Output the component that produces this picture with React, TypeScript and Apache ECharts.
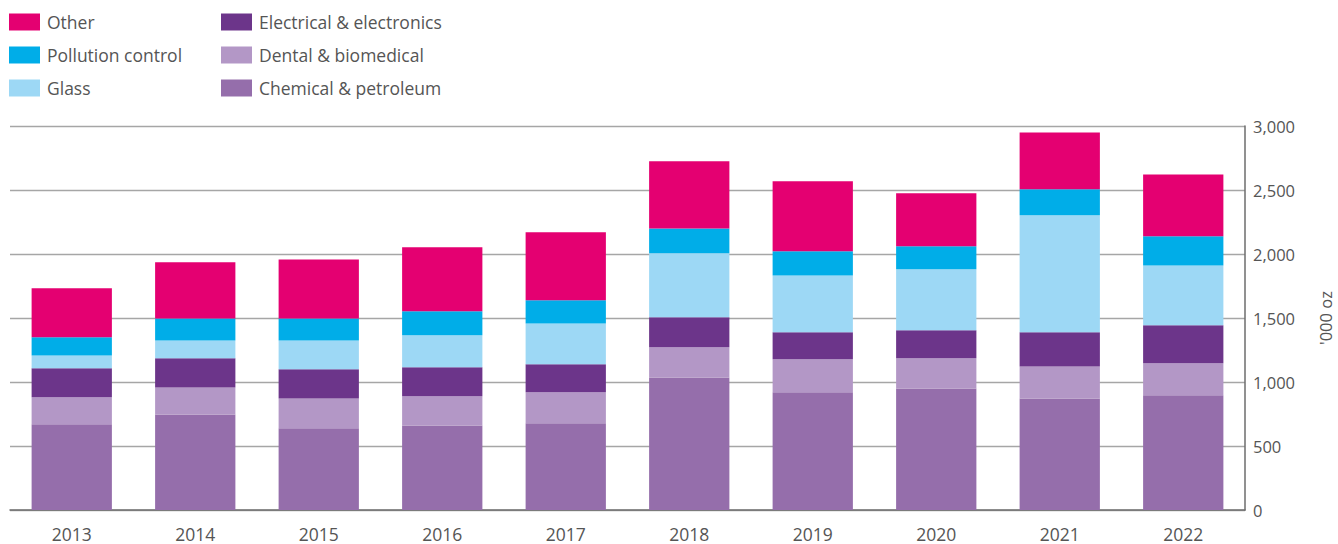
import React, { useEffect, useRef } from "react";
import * as echarts from "echarts";

const years = ["2013", "2014", "2015", "2016", "2017", "2018", "2019", "2020", "2021", "2022"];
const chemical = [669, 747, 638, 661, 677, 1036, 919, 950, 872, 896];
const dental = [211, 211, 234, 227, 242, 235, 258, 235, 250, 250];
const electrical = [227, 227, 227, 227, 219, 234, 211, 219, 266, 297];
const glass = [101, 140, 226, 250, 320, 500, 445, 476, 914, 468];
const pollution = [141, 172, 172, 187, 180, 195, 188, 180, 203, 227];
const other = [383, 438, 461, 500, 531, 524, 547, 414, 445, 484];
const yTicks = [0, 500, 1000, 1500, 2000, 2500, 3000];

const FONT = "'Open Sans', 'Noto Sans', sans-serif";
const TXT = "#555555";

export default function App() {
  const ref = useRef<HTMLDivElement>(null);
  useEffect(() => {
    document.body.style.margin = "0";
    const chart = echarts.init(ref.current!, undefined, { renderer: "svg" });
    const mk = (name: string, data: number[], color: string) => ({
      name,
      type: "bar",
      stack: "total",
      data,
      barCategoryGap: "35%",
      itemStyle: { color },
    });
    const legendCommon = {
      orient: "vertical",
      top: 13,
      itemWidth: 31,
      itemHeight: 17,
      itemGap: 15,
      icon: "rect",
      textStyle: { fontFamily: FONT, fontSize: 17.5, color: TXT, padding: [0, 0, 0, 2] },
      padding: 0,
    };
    chart.setOption({
      animation: false,
      legend: [
        { ...legendCommon, left: 9, data: ["Other", "Pollution control", "Glass"] },
        {
          ...legendCommon,
          left: 221,
          data: ["Electrical & electronics", "Dental & biomedical", "Chemical & petroleum"],
        },
      ],
      grid: { left: 10, right: 93, top: 126, bottom: 34, containLabel: false, outerBoundsMode: "none" },
      xAxis: {
        type: "category",
        data: years,
        axisLine: { lineStyle: { color: "#6d6d6d", width: 1.5 } },
        axisTick: { inside: true, length: 9, lineStyle: { color: "#6d6d6d", width: 1.2 } },
        axisLabel: { fontFamily: FONT, fontSize: 17.5, color: TXT, margin: 14, lineHeight: 19 },
      },
      yAxis: {
        type: "value",
        position: "right",
        min: yTicks[0],
        max: yTicks[yTicks.length - 1],
        interval: 500,
        name: "'000 oz",
        nameLocation: "middle",
        nameRotate: 90,
        nameGap: 72,
        nameTextStyle: { fontFamily: FONT, fontSize: 16.5, color: TXT },
        axisLine: { show: true, lineStyle: { color: "#6d6d6d", width: 1.5 } },
        axisTick: { show: false },
        splitLine: { lineStyle: { color: "#a6a6a6", width: 1.3 } },
        axisLabel: {
          fontFamily: FONT,
          fontSize: 16.5,
          color: TXT,
          margin: 8,
          formatter: (v: number) => v.toLocaleString("en-US"),
        },
      },
      series: [
        mk("Chemical & petroleum", chemical, "#956eab"),
        mk("Dental & biomedical", dental, "#b397c6"),
        mk("Electrical & electronics", electrical, "#6c358a"),
        mk("Glass", glass, "#9dd8f5"),
        mk("Pollution control", pollution, "#00ade8"),
        mk("Other", other, "#e40071"),
      ],
    });
    return () => chart.dispose();
  }, []);
  return <div ref={ref} style={{ width: 1338, height: 544 }} />;
}
